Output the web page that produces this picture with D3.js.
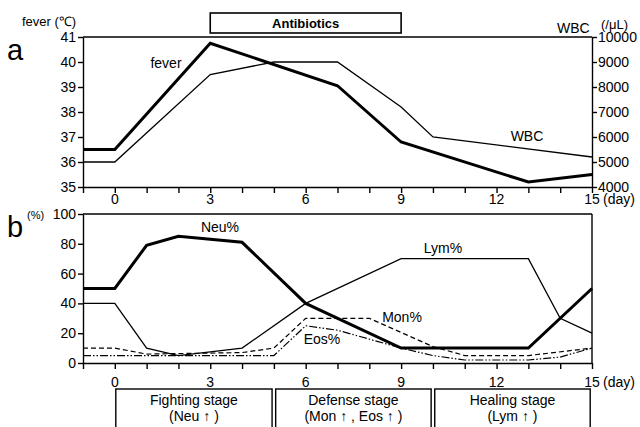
<!DOCTYPE html>
<html>
<head>
<meta charset="utf-8">
<script src="https://cdn.jsdelivr.net/npm/d3@7/dist/d3.min.js"></script>
<style>
  html, body { margin: 0; padding: 0; background: #fff; }
  svg { display: block; font-family: "Liberation Sans", Arial, sans-serif; }
  .axis path, .axis line { stroke: #000; stroke-width: 1.4; }
  .axis text { font-size: 14px; fill: #000; font-family: "Liberation Sans", Arial, sans-serif; }
</style>
</head>
<body>
<div id="chart"></div>
<script>
// panel a
const feverDays = [-1, 0, 3, 7, 9, 13, 15];
const feverVals = [36.5, 36.5, 40.75, 39.05, 36.8, 35.2, 35.5];
const wbcDays = [-1, 0, 3, 5, 7, 9, 10, 15];
const wbcVals = [5000, 5000, 8500, 9000, 9000, 7200, 6000, 5200];

// panel b
const neuDays = [-1, 0, 1, 2, 4, 6, 9, 13, 15];
const neuVals = [50, 50, 79, 85, 81, 40, 10, 10, 50];
const lymDays = [-1, 0, 1, 2, 4, 6, 9, 13, 14, 15];
const lymVals = [40, 40, 10, 5, 10, 40, 70, 70, 30, 20];
const monDays = [-1, 0, 1, 4, 5, 6, 8, 10, 11, 13, 15];
const monVals = [10, 10, 6, 7, 10, 30, 30, 11, 5, 5, 10];
const eosDays = [-1, 5, 6, 7, 9, 10, 11, 13, 14, 15];
const eosVals = [5, 5, 25, 22, 10, 5, 2, 2, 4, 10];

const antibiotics = [3, 9];
const stageNames = ["Fighting stage", "Defense stage", "Healing stage"];
const stageSubs = ["(Neu ↑ )", "(Mon ↑ , Eos ↑ )", "(Lym ↑ )"];
const stageRanges = [[0, 5], [5, 10], [10, 15]];

const dayTicks = d3.range(-1, 16);
const dayLabels = [0, 3, 6, 9, 12, 15];
const feverTicks = [35, 36, 37, 38, 39, 40, 41];
const wbcTicks = [4000, 5000, 6000, 7000, 8000, 9000, 10000];
const pctTicks = [0, 20, 40, 60, 80, 100];

const W = 640, H = 427;
const svg = d3.select("#chart").append("svg")
  .attr("width", W).attr("height", H);

const x = d3.scaleLinear().domain([-1, 15]).range([83, 592]);
const yA = d3.scaleLinear().domain([35, 41]).range([187, 37]);
const yW = d3.scaleLinear().domain([4000, 10000]).range([187, 37]);
const yB = d3.scaleLinear().domain([0, 100]).range([363, 214]);

const zip = (ds, vs) => ds.map((d, i) => [d, vs[i]]);
const fmt = d3.format("d");

function xAxis(g, y0, labelY) {
  g.attr("class", "axis").attr("transform", `translate(0,${y0})`)
    .call(d3.axisBottom(x).tickValues(dayTicks).tickSize(6).tickSizeOuter(0).tickFormat(""));
  g.selectAll(".lbl").data(dayLabels).join("text")
    .attr("class", "lbl")
    .attr("x", d => x(d)).attr("y", labelY - y0)
    .attr("text-anchor", "middle").attr("dominant-baseline", "central")
    .text(d => d);
  g.append("text").attr("x", x(15) + 11).attr("y", labelY - y0)
    .attr("text-anchor", "start")
    .attr("dominant-baseline", "central").text("(day)");
}

// ---- panel a ----
const gA = svg.append("g");
gA.append("line").attr("x1", x(-1)).attr("x2", x(15)).attr("y1", yA(41)).attr("y2", yA(41))
  .attr("stroke", "#000").attr("stroke-width", 1.4);
gA.append("g").attr("class", "axis").attr("transform", `translate(${x(-1)},0)`)
  .call(d3.axisLeft(yA).tickValues(feverTicks).tickFormat(fmt).tickSize(5).tickSizeOuter(0).tickPadding(2));
gA.append("g").attr("class", "axis").attr("transform", `translate(${x(15)},0)`)
  .call(d3.axisRight(yW).tickValues(wbcTicks).tickFormat(fmt).tickSize(5).tickSizeOuter(0).tickPadding(1));
gA.append("g").call(g => xAxis(g, yA(35), 199));

const lineA = d3.line().x(d => x(d[0])).y(d => yA(d[1]));
const lineW = d3.line().x(d => x(d[0])).y(d => yW(d[1]));
gA.append("path").attr("d", lineW(zip(wbcDays, wbcVals)))
  .attr("fill", "none").attr("stroke", "#000").attr("stroke-width", 1.3);
gA.append("path").attr("d", lineA(zip(feverDays, feverVals)))
  .attr("fill", "none").attr("stroke", "#000").attr("stroke-width", 3);

gA.append("text").attr("x", 166).attr("y", 63).attr("text-anchor", "middle")
  .attr("dominant-baseline", "central").attr("font-size", 14).text("fever");
gA.append("text").attr("x", 527).attr("y", 136).attr("text-anchor", "middle")
  .attr("dominant-baseline", "central").attr("font-size", 14).text("WBC");
gA.append("text").attr("x", 22).attr("y", 21).attr("dominant-baseline", "central")
  .attr("font-size", 13).text("fever (℃)");
gA.append("text").attr("x", 557).attr("y", 28).attr("dominant-baseline", "central")
  .attr("font-size", 14).text("WBC");
gA.append("text").attr("x", 601).attr("y", 24).attr("dominant-baseline", "central")
  .attr("font-size", 13).text("(/μL)");
gA.append("text").attr("x", 7).attr("y", 50).attr("dominant-baseline", "central")
  .attr("font-size", 29).text("a");

gA.append("rect").attr("x", x(antibiotics[0])).attr("y", 13)
  .attr("width", x(antibiotics[1]) - x(antibiotics[0])).attr("height", 20)
  .attr("fill", "none").attr("stroke", "#000").attr("stroke-width", 1.6);
gA.append("text").attr("x", (x(antibiotics[0]) + x(antibiotics[1])) / 2).attr("y", 23)
  .attr("text-anchor", "middle").attr("dominant-baseline", "central")
  .attr("font-size", 13).attr("font-weight", "bold").text("Antibiotics");

// ---- panel b ----
const gB = svg.append("g");
gB.append("line").attr("x1", x(-1)).attr("x2", x(15)).attr("y1", yB(100)).attr("y2", yB(100))
  .attr("stroke", "#000").attr("stroke-width", 1.4);
gB.append("line").attr("x1", x(15)).attr("x2", x(15)).attr("y1", yB(100)).attr("y2", yB(0))
  .attr("stroke", "#000").attr("stroke-width", 1.4);
gB.append("g").attr("class", "axis").attr("transform", `translate(${x(-1)},0)`)
  .call(d3.axisLeft(yB).tickValues(pctTicks).tickSize(5).tickSizeOuter(0).tickPadding(2));
gB.append("g").call(g => xAxis(g, yB(0), 382));

const lineB = d3.line().x(d => x(d[0])).y(d => yB(d[1]));
const series = [
  { days: eosDays, vals: eosVals, w: 1.2, dash: "8,2,1.5,2,1.5,2" },
  { days: monDays, vals: monVals, w: 1.2, dash: "5,3" },
  { days: lymDays, vals: lymVals, w: 1.3, dash: null },
  { days: neuDays, vals: neuVals, w: 3, dash: null }
];
gB.selectAll("path.series").data(series).join("path")
  .attr("class", "series")
  .attr("d", s => lineB(zip(s.days, s.vals)))
  .attr("fill", "none").attr("stroke", "#000")
  .attr("stroke-width", s => s.w)
  .attr("stroke-dasharray", s => s.dash);

const labelsB = [["Neu%", 220, 227], ["Lym%", 443, 248], ["Mon%", 402, 317], ["Eos%", 322, 339]];
gB.selectAll("text.sl").data(labelsB).join("text").attr("class", "sl")
  .attr("x", d => d[1]).attr("y", d => d[2]).attr("text-anchor", "middle")
  .attr("dominant-baseline", "central").attr("font-size", 14).text(d => d[0]);
gB.append("text").attr("x", 7).attr("y", 227).attr("dominant-baseline", "central")
  .attr("font-size", 29).text("b");
gB.append("text").attr("x", 27).attr("y", 215).attr("dominant-baseline", "central")
  .attr("font-size", 11).text("(%)");

// stage boxes
const gS = svg.append("g");
stageRanges.forEach((r, i) => {
  const x0 = x(r[0]) + (i === 0 ? 1 : 1.8), x1 = x(r[1]) - 1.8;
  gS.append("rect").attr("x", x0).attr("y", 389).attr("width", x1 - x0).attr("height", 60)
    .attr("fill", "none").attr("stroke", "#000").attr("stroke-width", 1.4);
  const cx = (x0 + x1) / 2;
  gS.append("text").attr("x", cx).attr("y", 400).attr("text-anchor", "middle")
    .attr("dominant-baseline", "central").attr("font-size", 14).text(stageNames[i]);
  gS.append("text").attr("x", cx).attr("y", 416).attr("text-anchor", "middle")
    .attr("dominant-baseline", "central").attr("font-size", 14).text(stageSubs[i]);
});
</script>
</body>
</html>
